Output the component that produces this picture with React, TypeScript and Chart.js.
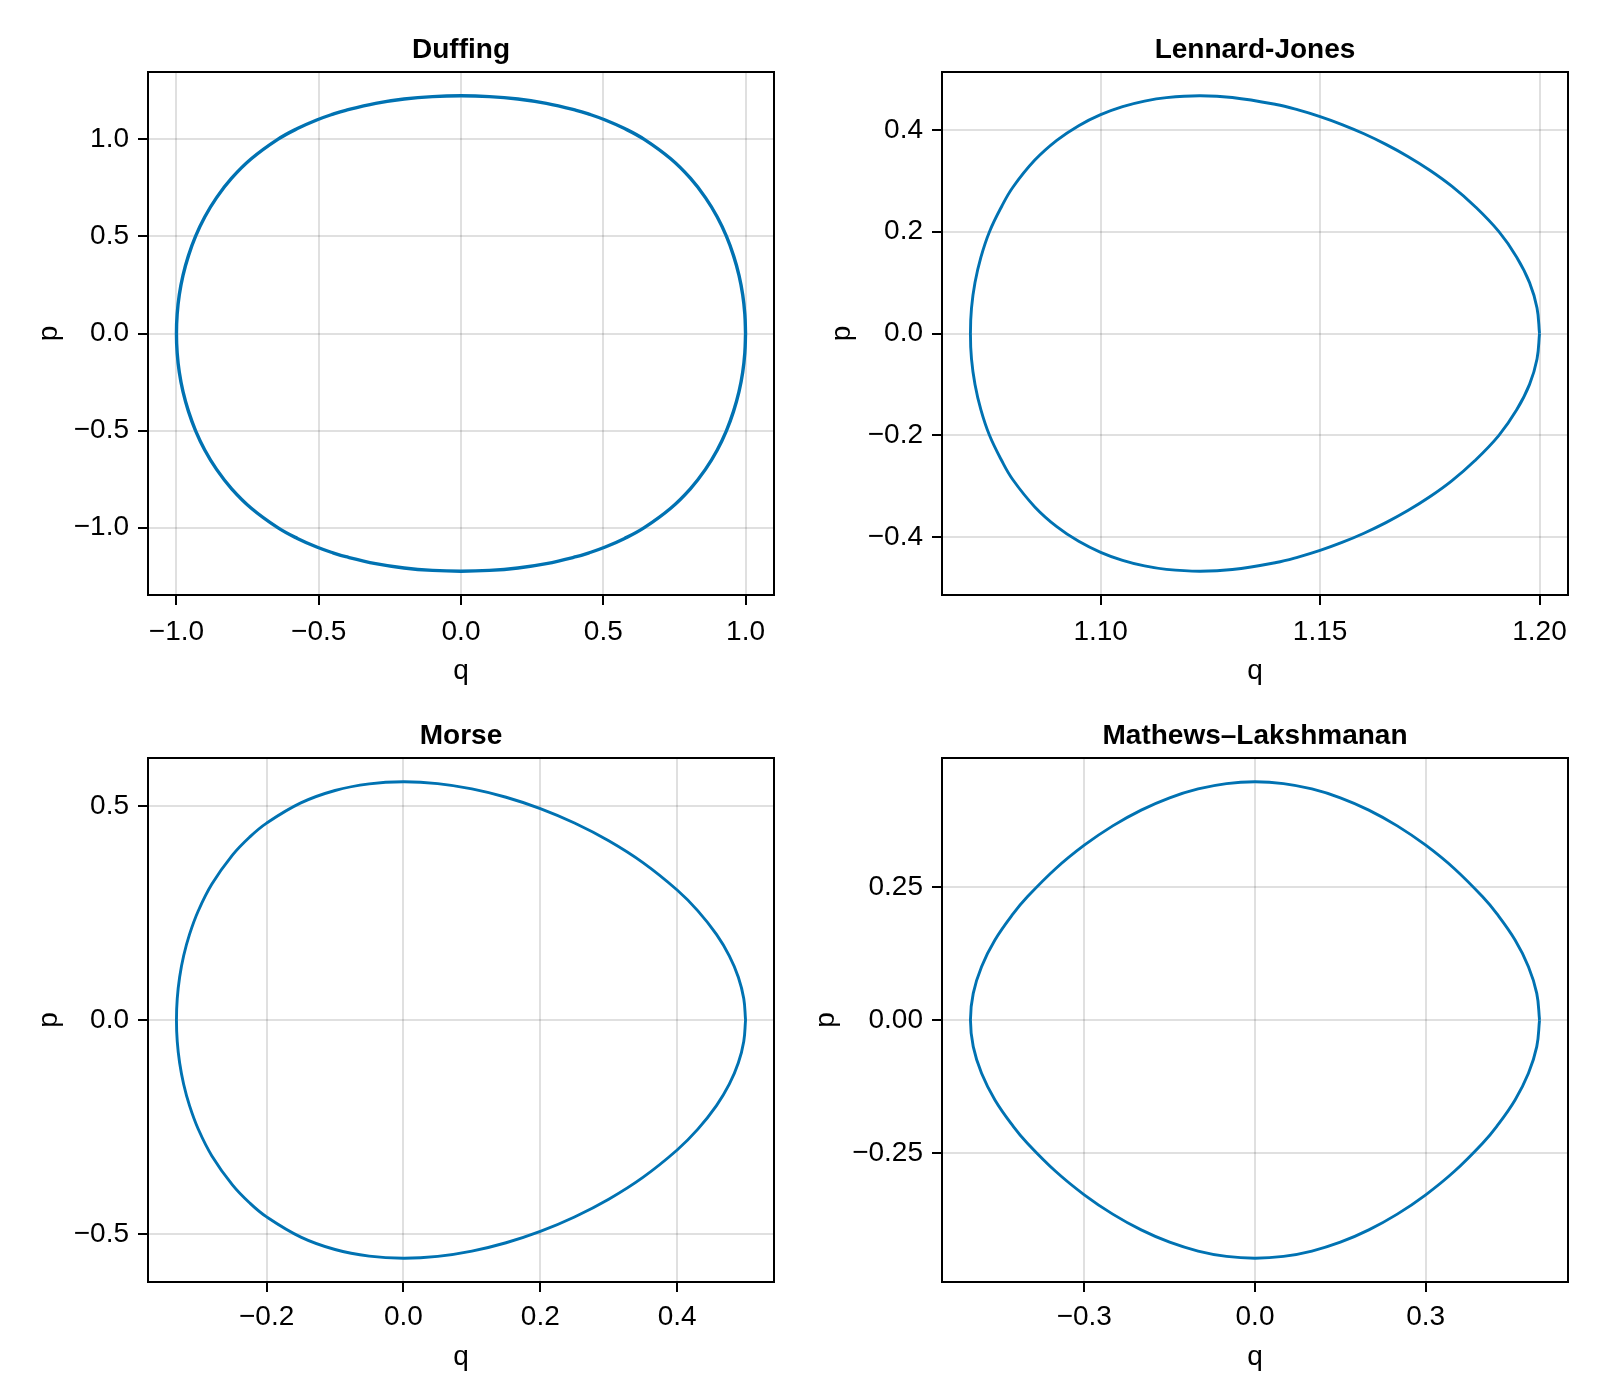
import React, { useEffect, useRef } from "react";
import { Chart, registerables } from "chart.js";

Chart.register(...registerables);

const FONT = "'Liberation Sans', Arial, Helvetica, sans-serif";
const LINE_COLOR = "#0072B2";
const GRID_COLOR = "rgba(0,0,0,0.12)";

// ---------- Duffing ----------
const duffingQ = [1, 0.9975, 0.99, 0.977, 0.958, 0.933, 0.9006, 0.859, 0.806, 0.737, 0.644, 0.575, 0.507, 0.45, 0.405, 0.3, 0.2, 0.1, 0, -0.1, -0.2, -0.3, -0.405, -0.45, -0.507, -0.575, -0.644, -0.737, -0.806, -0.859, -0.9006, -0.933, -0.958, -0.977, -0.99, -0.9975, -1, -0.9975, -0.99, -0.977, -0.958, -0.933, -0.9006, -0.859, -0.806, -0.737, -0.644, -0.575, -0.507, -0.45, -0.405, -0.3, -0.2, -0.1, 0, 0.1, 0.2, 0.3, 0.405, 0.45, 0.507, 0.575, 0.644, 0.737, 0.806, 0.859, 0.9006, 0.933, 0.958, 0.977, 0.99, 0.9975, 1];
const duffingP = [0, 0.1, 0.2, 0.3, 0.4, 0.5, 0.6, 0.7, 0.8, 0.9, 1.0, 1.0558, 1.1, 1.13, 1.15, 1.1857, 1.208, 1.2206, 1.2247, 1.2206, 1.208, 1.1857, 1.15, 1.13, 1.1, 1.0558, 1.0, 0.9, 0.8, 0.7, 0.6, 0.5, 0.4, 0.3, 0.2, 0.1, 0, -0.1, -0.2, -0.3, -0.4, -0.5, -0.6, -0.7, -0.8, -0.9, -1.0, -1.0558, -1.1, -1.13, -1.15, -1.1857, -1.208, -1.2206, -1.2247, -1.2206, -1.208, -1.1857, -1.15, -1.13, -1.1, -1.0558, -1.0, -0.9, -0.8, -0.7, -0.6, -0.5, -0.4, -0.3, -0.2, -0.1, 0];
const duffingXTicks = [-1, -0.5, 0, 0.5, 1];
const duffingXLabels = ["\u22121.0", "\u22120.5", "0.0", "0.5", "1.0"];
const duffingYTicks = [-1, -0.5, 0, 0.5, 1];
const duffingYLabels = ["\u22121.0", "\u22120.5", "0.0", "0.5", "1.0"];
const duffingXRange = [-1.1, 1.1];
const duffingYRange = [-1.3472, 1.3472];

// ---------- Lennard-Jones ----------
const ljQ = [1.2, 1.19943, 1.19773, 1.1948, 1.19075, 1.18524, 1.18, 1.175, 1.17, 1.165, 1.16, 1.155, 1.15, 1.145, 1.14, 1.13, 1.1225, 1.115, 1.11, 1.105, 1.1, 1.095, 1.09, 1.085, 1.08, 1.07747, 1.07467, 1.07272, 1.07137, 1.07057, 1.07033, 1.07057, 1.07137, 1.07272, 1.07467, 1.07747, 1.08, 1.085, 1.09, 1.095, 1.1, 1.105, 1.11, 1.115, 1.1225, 1.13, 1.14, 1.145, 1.15, 1.155, 1.16, 1.165, 1.17, 1.175, 1.18, 1.18524, 1.19075, 1.1948, 1.19773, 1.19943, 1.2];
const ljP = [0, 0.05, 0.1, 0.15, 0.2, 0.25, 0.2894, 0.3207, 0.3478, 0.3715, 0.3923, 0.4104, 0.426, 0.4391, 0.4498, 0.4637, 0.467, 0.4634, 0.4566, 0.4457, 0.4299, 0.4083, 0.3794, 0.3406, 0.2873, 0.25, 0.2, 0.15, 0.1, 0.05, 0, -0.05, -0.1, -0.15, -0.2, -0.25, -0.2873, -0.3406, -0.3794, -0.4083, -0.4299, -0.4457, -0.4566, -0.4634, -0.467, -0.4637, -0.4498, -0.4391, -0.426, -0.4104, -0.3923, -0.3715, -0.3478, -0.3207, -0.2894, -0.25, -0.2, -0.15, -0.1, -0.05, 0];
const ljXTicks = [1.1, 1.15, 1.2];
const ljXLabels = ["1.10", "1.15", "1.20"];
const ljYTicks = [-0.4, -0.2, 0, 0.2, 0.4];
const ljYLabels = ["\u22120.4", "\u22120.2", "0.0", "0.2", "0.4"];
const ljXRange = [1.06385, 1.20649];
const ljYRange = [-0.51368, 0.51368];

// ---------- Morse ----------
const morseQ = [0.5, 0.49738, 0.4895, 0.47625, 0.4575, 0.43, 0.4, 0.35, 0.3, 0.25, 0.2, 0.15, 0.1, 0.05, 0, -0.05, -0.1, -0.15, -0.2, -0.225, -0.25, -0.28, -0.3, -0.3127, -0.32128, -0.32718, -0.33065, -0.33179, -0.33065, -0.32718, -0.32128, -0.3127, -0.3, -0.28, -0.25, -0.225, -0.2, -0.15, -0.1, -0.05, 0, 0.05, 0.1, 0.15, 0.2, 0.25, 0.3, 0.35, 0.4, 0.43, 0.4575, 0.47625, 0.4895, 0.49738, 0.5];
const morseP = [0, 0.05, 0.1, 0.15, 0.2, 0.2556, 0.3037, 0.3677, 0.4187, 0.4602, 0.4939, 0.5204, 0.5399, 0.5522, 0.5565, 0.5517, 0.5362, 0.5072, 0.46, 0.427, 0.3851, 0.3175, 0.2546, 0.2, 0.15, 0.1, 0.05, 0, -0.05, -0.1, -0.15, -0.2, -0.2546, -0.3175, -0.3851, -0.427, -0.46, -0.5072, -0.5362, -0.5517, -0.5565, -0.5522, -0.5399, -0.5204, -0.4939, -0.4602, -0.4187, -0.3677, -0.3037, -0.2556, -0.2, -0.15, -0.1, -0.05, 0];
const morseXTicks = [-0.2, 0, 0.2, 0.4];
const morseXLabels = ["\u22120.2", "0.0", "0.2", "0.4"];
const morseYTicks = [-0.5, 0, 0.5];
const morseYLabels = ["\u22120.5", "0.0", "0.5"];
const morseXRange = [-0.37339, 0.54159];
const morseYRange = [-0.6121, 0.6121];

// ---------- Mathews–Lakshmanan ----------
const mlQ = [0.5, 0.4951, 0.4805, 0.457, 0.4245, 0.4, 0.35, 0.3, 0.25, 0.2, 0.15, 0.1, 0.05, 0, -0.05, -0.1, -0.15, -0.2, -0.25, -0.3, -0.35, -0.4, -0.4245, -0.457, -0.4805, -0.4951, -0.5, -0.4951, -0.4805, -0.457, -0.4245, -0.4, -0.35, -0.3, -0.25, -0.2, -0.15, -0.1, -0.05, 0, 0.05, 0.1, 0.15, 0.2, 0.25, 0.3, 0.35, 0.4, 0.4245, 0.457, 0.4805, 0.4951, 0.5];
const mlP = [0, 0.05, 0.1, 0.15, 0.2, 0.2313, 0.2845, 0.3282, 0.3645, 0.3941, 0.4172, 0.4338, 0.4439, 0.4472, 0.4439, 0.4338, 0.4172, 0.3941, 0.3645, 0.3282, 0.2845, 0.2313, 0.2, 0.15, 0.1, 0.05, 0, -0.05, -0.1, -0.15, -0.2, -0.2313, -0.2845, -0.3282, -0.3645, -0.3941, -0.4172, -0.4338, -0.4439, -0.4472, -0.4439, -0.4338, -0.4172, -0.3941, -0.3645, -0.3282, -0.2845, -0.2313, -0.2, -0.15, -0.1, -0.05, 0];
const mlXTicks = [-0.3, 0, 0.3];
const mlXLabels = ["\u22120.3", "0.0", "0.3"];
const mlYTicks = [-0.25, 0, 0.25];
const mlYLabels = ["\u22120.25", "0.00", "0.25"];
const mlXRange = [-0.55, 0.55];
const mlYRange = [-0.49193, 0.49193];

const boxPlugin = {
  id: "frameBox",
  afterDraw(chart: any) {
    const { ctx, chartArea: a } = chart;
    ctx.save();
    ctx.strokeStyle = "#000";
    ctx.lineWidth = 2;
    ctx.strokeRect(a.left, a.top, a.right - a.left, a.bottom - a.top);
    ctx.restore();
  },
};

function labelFor(ticks: number[], labels: string[]) {
  return (v: any) => {
    const i = ticks.findIndex((t) => Math.abs(t - Number(v)) < 1e-9);
    return i >= 0 ? labels[i] : "";
  };
}

type PanelProps = {
  title: string;
  q: number[];
  p: number[];
  xTicks: number[];
  xLabels: string[];
  yTicks: number[];
  yLabels: string[];
  xRange: number[];
  yRange: number[];
  left: number;
  top: number;
  padRight: number;
  yAxisW: number;
  xAxisH: number;
  titleTop: number;
  titleBottom: number;
  yTitlePad: number;
  xTitlePad: number;
  xTickPad: number;
  lw: number;
};

function Panel(props: PanelProps) {
  const ref = useRef<HTMLCanvasElement>(null);
  useEffect(() => {
    const tickFont = { family: FONT, size: 28, lineHeight: 1.2 };
    const chart = new Chart(ref.current as HTMLCanvasElement, {
      type: "scatter",
      data: {
        datasets: [
          {
            data: props.q.map((x, i) => ({ x, y: props.p[i] })),
            showLine: true,
            borderColor: LINE_COLOR,
            borderWidth: props.lw,
            pointRadius: 0,
            tension: 0.4,
            fill: false,
          } as any,
        ],
      },
      options: {
        animation: false,
        responsive: false,
        events: [],
        layout: { padding: { left: 0, top: 0, right: props.padRight, bottom: 0 } },
        plugins: {
          legend: { display: false },
          tooltip: { enabled: false },
          title: {
            display: true,
            text: props.title,
            fullSize: false,
            color: "#000",
            font: { family: FONT, size: 28, weight: "bold", lineHeight: 1.2 },
            padding: { top: props.titleTop, bottom: props.titleBottom },
          },
        },
        scales: {
          x: {
            type: "linear",
            min: props.xRange[0],
            max: props.xRange[1],
            afterBuildTicks: (s: any) => {
              s.ticks = props.xTicks.map((v) => ({ value: v }));
            },
            afterFit: (s: any) => {
              s.height = props.xAxisH;
            },
            ticks: {
              callback: labelFor(props.xTicks, props.xLabels),
              color: "#000",
              font: tickFont,
              padding: props.xTickPad,
              maxRotation: 0,
              minRotation: 0,
              autoSkip: false,
            },
            grid: { color: GRID_COLOR, lineWidth: 2, tickLength: 10, tickColor: "#000", tickWidth: 2 },
            border: { display: false },
            title: {
              display: true,
              text: "q",
              color: "#000",
              font: tickFont,
              padding: { top: 0, bottom: props.xTitlePad },
            },
          },
          y: {
            type: "linear",
            min: props.yRange[0],
            max: props.yRange[1],
            afterBuildTicks: (s: any) => {
              s.ticks = props.yTicks.map((v) => ({ value: v }));
            },
            afterFit: (s: any) => {
              s.width = props.yAxisW;
            },
            ticks: {
              callback: labelFor(props.yTicks, props.yLabels),
              color: "#000",
              font: tickFont,
              padding: 9,
              autoSkip: false,
            },
            grid: { color: GRID_COLOR, lineWidth: 2, tickLength: 10, tickColor: "#000", tickWidth: 2 },
            border: { display: false },
            title: {
              display: true,
              text: "p",
              color: "#000",
              font: tickFont,
              padding: { top: props.yTitlePad, bottom: 0 },
            },
          },
        },
      } as any,
      plugins: [boxPlugin],
    });
    return () => chart.destroy();
  }, []);
  return (
    <canvas
      ref={ref}
      width={800}
      height={700}
      style={{ position: "absolute", left: props.left, top: props.top, width: 800, height: 700 }}
    />
  );
}

export default function App() {
  return (
    <div style={{ position: "absolute", left: 0, top: 0, width: 1600, height: 1400, background: "#fff" }}>
      <Panel
        title="Duffing"
        q={duffingQ}
        p={duffingP}
        xTicks={duffingXTicks}
        xLabels={duffingXLabels}
        yTicks={duffingYTicks}
        yLabels={duffingYLabels}
        xRange={duffingXRange}
        yRange={duffingYRange}
        left={0}
        top={0}
        padRight={26}
        yAxisW={148}
        xAxisH={105}
        titleTop={33}
        titleBottom={5.4}
        yTitlePad={32.6}
        xTitlePad={12.1}
        xTickPad={10}
        lw={3.4}
      />
      <Panel
        title="Lennard-Jones"
        q={ljQ}
        p={ljP}
        xTicks={ljXTicks}
        xLabels={ljXLabels}
        yTicks={ljYTicks}
        yLabels={ljYLabels}
        xRange={ljXRange}
        yRange={ljYRange}
        left={800}
        top={0}
        padRight={32}
        yAxisW={142}
        xAxisH={105}
        titleTop={33}
        titleBottom={5.4}
        yTitlePad={25.6}
        xTitlePad={12.1}
        xTickPad={10}
        lw={2.9}
      />
      <Panel
        title="Morse"
        q={morseQ}
        p={morseP}
        xTicks={morseXTicks}
        xLabels={morseXLabels}
        yTicks={morseYTicks}
        yLabels={morseYLabels}
        xRange={morseXRange}
        yRange={morseYRange}
        left={0}
        top={700}
        padRight={26}
        yAxisW={148}
        xAxisH={118}
        titleTop={19.5}
        titleBottom={4.9}
        yTitlePad={32.6}
        xTitlePad={26.1}
        xTickPad={8}
        lw={2.9}
      />
      <Panel
        title={"Mathews\u2013Lakshmanan"}
        q={mlQ}
        p={mlP}
        xTicks={mlXTicks}
        xLabels={mlXLabels}
        yTicks={mlYTicks}
        yLabels={mlYLabels}
        xRange={mlXRange}
        yRange={mlYRange}
        left={800}
        top={700}
        padRight={32}
        yAxisW={142}
        xAxisH={118}
        titleTop={19.5}
        titleBottom={4.9}
        yTitlePad={9.6}
        xTitlePad={26.1}
        xTickPad={8}
        lw={2.9}
      />
    </div>
  );
}
